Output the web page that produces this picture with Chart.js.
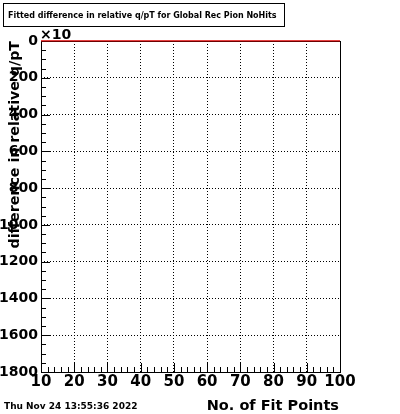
<!DOCTYPE html>
<html>
<head>
<meta charset="utf-8">
<script src="https://cdn.jsdelivr.net/npm/chart.js@4/dist/chart.umd.min.js"></script>
<style>
  html, body { margin: 0; padding: 0; background: #fff; }
  #wrap { width: 400px; height: 414px; }
</style>
</head>
<body>
<div id="wrap"><canvas id="c" width="400" height="414"></canvas></div>
<script>
// Empty histogram: every bin is zero
const fitPoints = [10, 20, 30, 40, 50, 60, 70, 80, 90, 100];
const entries = [0, 0, 0, 0, 0, 0, 0, 0, 0, 0];
const xTicks = [10, 20, 30, 40, 50, 60, 70, 80, 90, 100];
const yTicks = [0, 200, 400, 600, 800, 1000, 1200, 1400, 1600, 1800];

const titleText = 'Fitted difference in relative q/pT for Global Rec Pion NoHits';
const xTitle = 'No. of Fit Points';
const yTitle = 'difference in relative q/pT';
const dateText = 'Thu Nov 24 13:55:36 2022';
const FONT = '"DejaVu Sans", sans-serif';

// ROOT-like frame, minor ticks and labels
const rootFrame = {
  id: 'rootFrame',
  beforeDraw(chart) {
    const ctx = chart.ctx;
    ctx.save();
    ctx.fillStyle = '#fff';
    ctx.fillRect(0, 0, chart.width, chart.height);
    ctx.restore();
  },
  afterDraw(chart) {
    const ctx = chart.ctx;
    const a = chart.chartArea;
    const xs = chart.scales.x, ys = chart.scales.y;
    ctx.save();
    ctx.strokeStyle = '#000';
    ctx.lineWidth = 1;
    // ticks along bottom
    for (let v = 10; v <= 100; v += 2) {
      const px = Math.round(xs.getPixelForValue(v)) + 0.5;
      const len = (v % 10 === 0) ? 9 : 5;
      ctx.beginPath();
      ctx.moveTo(px, a.bottom);
      ctx.lineTo(px, a.bottom - len);
      ctx.stroke();
    }
    // ticks along left
    for (let v = 0; v <= 1800; v += 50) {
      const py = Math.round(ys.getPixelForValue(v)) + 0.5;
      const len = (v % 200 === 0) ? 9 : 5;
      ctx.beginPath();
      ctx.moveTo(a.left, py);
      ctx.lineTo(a.left + len, py);
      ctx.stroke();
    }
    // frame
    ctx.strokeRect(Math.round(a.left) + 0.5, Math.round(a.top) + 0.5,
      Math.round(a.right - a.left), Math.round(a.bottom - a.top));
    // redraw the histogram line on top of frame
    const meta = chart.getDatasetMeta(0);
    ctx.strokeStyle = '#e00000';
    ctx.lineWidth = 1.2;
    ctx.beginPath();
    meta.data.forEach((p, i) => { if (i === 0) ctx.moveTo(p.x, p.y); else ctx.lineTo(p.x, p.y); });
    ctx.stroke();

    // exponent
    ctx.fillStyle = '#000';
    ctx.font = 'bold 14px ' + FONT;
    ctx.textAlign = 'left';
    ctx.textBaseline = 'alphabetic';
    ctx.fillText('\u00d710', a.left - 1, a.top - 2);

    // axis titles
    ctx.font = 'bold 14.5px ' + FONT;
    ctx.textAlign = 'right';
    ctx.fillText(xTitle, a.right - 1, 410);
    ctx.save();
    ctx.translate(19, a.top);
    ctx.rotate(-Math.PI / 2);
    ctx.font = 'bold 14.2px ' + FONT;
    ctx.textAlign = 'right';
    ctx.fillText(yTitle, 0, 0);
    ctx.restore();

    // date
    ctx.font = 'bold 9px ' + FONT;
    ctx.textAlign = 'left';
    ctx.fillText(dateText, 4, 409);

    // title box
    ctx.fillStyle = '#fff';
    ctx.fillRect(3, 3, 282, 24);
    ctx.strokeStyle = '#000';
    ctx.lineWidth = 1;
    ctx.strokeRect(3.5, 3.5, 281, 23);
    ctx.fillStyle = '#000';
    ctx.font = 'bold 8px ' + FONT;
    ctx.textAlign = 'left';
    ctx.fillText(titleText, 8, 18);
    ctx.restore();
  }
};

new Chart(document.getElementById('c'), {
  type: 'line',
  data: {
    labels: fitPoints,
    datasets: [{
      data: fitPoints.map((x, i) => ({ x: x, y: entries[i] })),
      borderColor: '#e00000',
      borderWidth: 1.2,
      pointRadius: 0,
      fill: false,
      clip: false
    }]
  },
  options: {
    responsive: false,
    animation: false,
    events: [],
    layout: { padding: { left: 0, top: 41, right: 60, bottom: 0 } },
    plugins: { legend: { display: false }, tooltip: { enabled: false } },
    scales: {
      x: {
        type: 'linear',
        min: 10, max: 100,
        afterFit(s) { s.height = 42; },
        afterBuildTicks(s) { s.ticks = xTicks.map(v => ({ value: v })); },
        grid: { color: '#000', lineWidth: 1, drawTicks: false },
        border: { display: false, dash: [1, 2] },
        ticks: { color: '#000', padding: 1, maxRotation: 0, autoSkip: false,
                 callback: v => String(v),
                 font: { family: FONT, size: 15, weight: 'bold' } }
      },
      y: {
        type: 'linear',
        reverse: true,
        min: 0, max: 1800,
        afterFit(s) { s.width = 41; },
        afterBuildTicks(s) { s.ticks = yTicks.map(v => ({ value: v })); },
        grid: { color: '#000', lineWidth: 1, drawTicks: false },
        border: { display: false, dash: [1, 2] },
        ticks: { color: '#000', padding: 3, autoSkip: false,
                 callback: v => String(v),
                 font: { family: FONT, size: 14, weight: 'bold' } }
      }
    }
  },
  plugins: [rootFrame]
});
</script>
</body>
</html>
